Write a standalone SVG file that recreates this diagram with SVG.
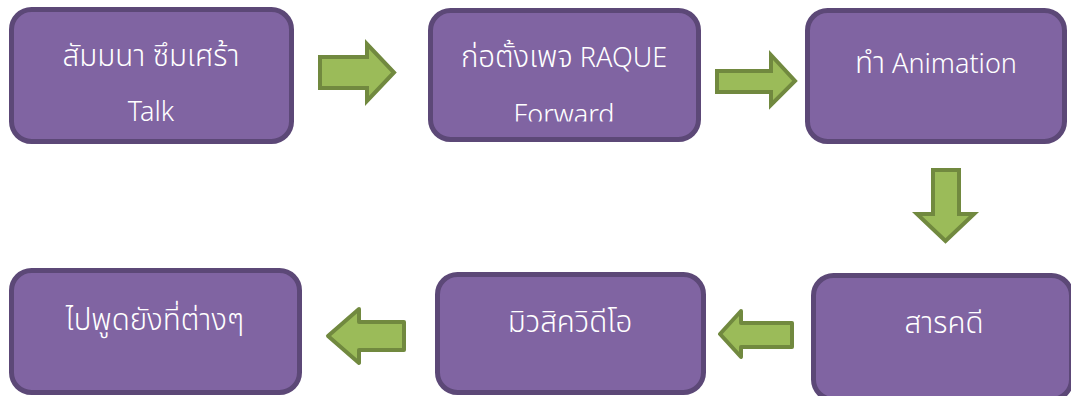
<svg xmlns="http://www.w3.org/2000/svg" width="1071" height="396" viewBox="0 0 1071 396">
<style>
.box{fill:#8064A2;stroke:#5C4877;stroke-width:5}
.lbl{font-family:"Noto Sans","Noto Sans Thai","Leelawadee UI",sans-serif;font-size:27px;font-weight:300;fill:#FFFFFF;text-anchor:middle}
.th{font-size:29.5px}
.arr{fill:#9BBB59;stroke:#71893F;stroke-width:4;stroke-linejoin:miter}
.arrR{fill:#9BBB59;stroke:#71893F;stroke-width:4;stroke-linejoin:round}
</style>
<defs>
<clipPath id="clip2"><rect x="430" y="10" width="270" height="111.5"/></clipPath>
</defs>
<rect width="1071" height="396" fill="#FFFFFF"/>
<g id="connectors">
<polygon class="arr" points="320,57 367,57 367,44 394,72.5 367,101 367,88 320,88"/>
<polygon class="arr" points="717,71 771,71 771,55 795,81 771,105 771,92 717,92"/>
<polygon class="arr" points="933,170 959,170 959,214 974,214 945.5,241 917,214 933,214"/>
<polygon class="arrR" points="404,322 359,322 359,309 328,336 359,363 359,350 404,350"/>
<polygon class="arrR" points="792,323 741,323 741,311 720,334 741,357 741,347 792,347"/>
</g>
<g id="node1">
<rect class="box" x="11.5" y="9.5" width="280" height="132" rx="20"/>
<text class="lbl th" x="151" y="66">สัมมนา ซึมเศร้า</text>
<text class="lbl" x="151" y="121">Talk</text>
</g>
<g id="node2">
<rect class="box" x="430.5" y="10.5" width="268" height="129" rx="20"/>
<text class="lbl" x="564" y="67"><tspan class="th">ก่อตั้งเพจ</tspan> RAQUE</text>
<text class="lbl" x="564" y="124" clip-path="url(#clip2)">Forward</text>
</g>
<g id="node3">
<rect class="box" x="807.5" y="10.5" width="257" height="131" rx="20"/>
<text class="lbl" x="936" y="73"><tspan class="th">ทำ</tspan> Animation</text>
</g>
<g id="node4">
<rect class="box" x="813.5" y="275.5" width="258" height="124" rx="20"/>
<text class="lbl th" x="944" y="333">สารคดี</text>
</g>
<g id="node5">
<rect class="box" x="437.5" y="274.5" width="266" height="118" rx="20"/>
<text class="lbl th" x="570" y="332">มิวสิควิดีโอ</text>
</g>
<g id="node6">
<rect class="box" x="11.5" y="270.5" width="288" height="122" rx="20"/>
<text class="lbl th" x="155" y="330">ไปพูดยังที่ต่างๆ</text>
</g>
</svg>
